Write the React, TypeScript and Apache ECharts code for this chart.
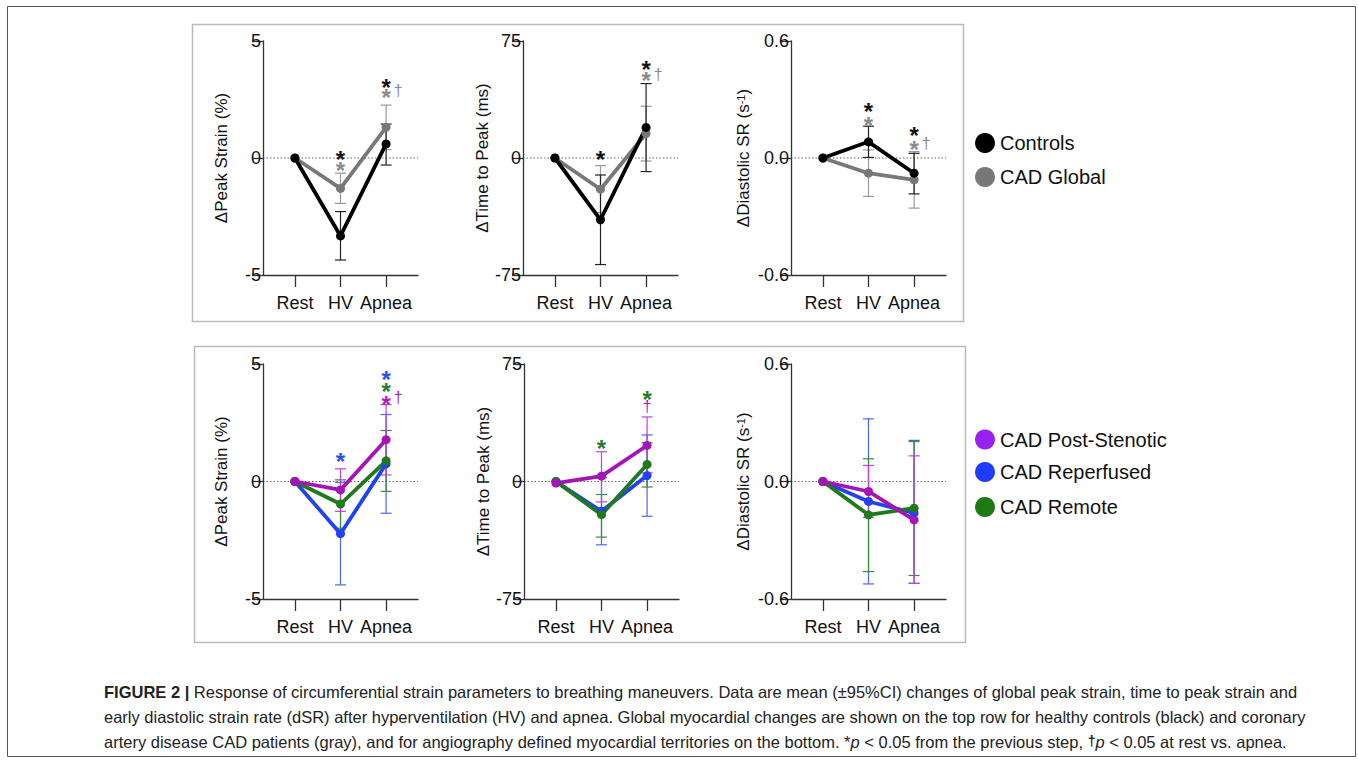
import React, { useEffect, useRef } from "react";
import * as echarts from "echarts";

const FONT = '"Liberation Sans", Arial, Helvetica, sans-serif';
const CATS = ["Rest", "HV", "Apnea"];
const X = [0, 1, 2];

// ---- Top row: Controls vs CAD Global ----
const strainControls = [0, -3.33, 0.6];
const strainControlsLo = [0, -4.36, -0.3];
const strainControlsHi = [0, -2.29, 1.45];
const strainCad = [0, -1.3, 1.31];
const strainCadLo = [0, -1.94, 0.36];
const strainCadHi = [0, -0.65, 2.26];

const ttpControls = [0, -39.6, 19.6];
const ttpControlsLo = [0, -68.3, -8.7];
const ttpControlsHi = [0, -10.9, 47.7];
const ttpCad = [0, -20, 15.7];
const ttpCadLo = [0, -35, -1.9];
const ttpCadHi = [0, -4.9, 33.2];

const dsrControls = [0, 0.083, -0.078];
const dsrControlsLo = [0, 0.003, -0.184];
const dsrControlsHi = [0, 0.163, 0.024];
const dsrCad = [0, -0.078, -0.112];
const dsrCadLo = [0, -0.197, -0.257];
const dsrCadHi = [0, 0.041, 0.033];

// ---- Bottom row: territories ----
const strainPost = [0, -0.36, 1.78];
const strainPostLo = [0, -1.27, 0.28];
const strainPostHi = [0, 0.54, 3.27];
const strainRep = [0, -2.22, 0.75];
const strainRepLo = [0, -4.4, -1.35];
const strainRepHi = [0, -0.04, 2.85];
const strainRem = [0, -0.96, 0.88];
const strainRemLo = [0, -1.99, -0.42];
const strainRemHi = [0, 0.07, 2.17];

const ttpPost = [-1, 3.4, 23];
const ttpPostLo = [-1, -13, 5.5];
const ttpPostHi = [-1, 19, 41.2];
const ttpRep = [0, -19, 3.8];
const ttpRepLo = [0, -40.4, -22.2];
const ttpRepHi = [0, 2.4, 29.7];
const ttpRem = [0, -21.2, 10.9];
const ttpRemLo = [0, -35.5, -3.5];
const ttpRemHi = [0, -8.3, 24.7];

const dsrPost = [0, -0.051, -0.196];
const dsrPostLo = [0, -0.184, -0.52];
const dsrPostHi = [0, 0.082, 0.131];
const dsrRep = [0, -0.102, -0.161];
const dsrRepLo = [0, -0.523, -0.52];
const dsrRepHi = [0, 0.32, 0.204];
const dsrRem = [0, -0.17, -0.136];
const dsrRemLo = [0, -0.46, -0.48];
const dsrRemHi = [0, 0.116, 0.21];

// colours
const C_BLACK = "#000000";
const C_GRAY = "#787878";
const C_MAG = "#a514b8";
const C_BLUE = "#2242f2";
const C_GREEN = "#1f7a1c";
const K_BLACK = "#111111";
const K_GRAY = "#8a8a8a";
const K_BLUE = "#2a4cf0";
const K_GREEN = "#2a7a2a";
const K_MAG = "#b01cc0";

// significance markers: stacks of "*" (or "†") at a category, y = glyph centre value
type Mark = { y: number; t: string; c: string };
type Stack = { x: number; marks: Mark[] };
type Dagger = { x: number; y: number; c: string };

const stacksA: Stack[] = [
  { x: 1, marks: [{ y: 0.17, t: "*", c: K_BLACK }, { y: -0.3, t: "*", c: K_GRAY }] },
  { x: 2, marks: [{ y: 3.26, t: "*", c: K_BLACK }, { y: 2.83, t: "*", c: K_GRAY }] },
];
const daggersA: Dagger[] = [{ x: 2, y: 2.83, c: K_GRAY }];
const stacksB: Stack[] = [
  { x: 1, marks: [{ y: 2.6, t: "*", c: K_BLACK }] },
  { x: 2, marks: [{ y: 60.4, t: "*", c: K_BLACK }, { y: 53, t: "*", c: K_GRAY }] },
];
const daggersB: Dagger[] = [{ x: 2, y: 53, c: K_GRAY }];
const stacksC: Stack[] = [
  { x: 1, marks: [{ y: 0.27, t: "*", c: K_BLACK }, { y: 0.198, t: "*", c: K_GRAY }] },
  { x: 2, marks: [{ y: 0.143, t: "*", c: K_BLACK }, { y: 0.0715, t: "*", c: K_GRAY }] },
];
const daggersC: Dagger[] = [{ x: 2, y: 0.0715, c: K_GRAY }];
const stacksD: Stack[] = [
  { x: 1, marks: [{ y: 1.07, t: "*", c: K_BLUE }] },
  { x: 2, marks: [{ y: 4.58, t: "*", c: K_BLUE }, { y: 4.05, t: "*", c: K_GREEN }, { y: 3.52, t: "*", c: K_MAG }] },
];
const daggersD: Dagger[] = [{ x: 2, y: 3.52, c: K_MAG }];
const stacksE: Stack[] = [
  { x: 1, marks: [{ y: 24.7, t: "*", c: K_GREEN }] },
  { x: 2, marks: [{ y: 55.8, t: "*", c: K_GREEN }, { y: 47.2, t: "†", c: K_MAG }] },
];
const daggersE: Dagger[] = [];

type S = { color: string; err: string; mean: number[]; lo: number[]; hi: number[] };
type Panel = {
  left: number; top: number; height: number; max: number; dec: number;
  name: string; nameGap: number; series: S[]; stacks: Stack[]; daggers: Dagger[];
};

const panels: Panel[] = [
  {
    left: 263, top: 41, height: 234, max: 5, dec: 0, name: "ΔPeak Strain (%)", nameGap: 33,
    series: [
      { color: C_GRAY, err: "#9a9a9a", mean: strainCad, lo: strainCadLo, hi: strainCadHi },
      { color: C_BLACK, err: "#222", mean: strainControls, lo: strainControlsLo, hi: strainControlsHi },
    ],
    stacks: stacksA, daggers: daggersA,
  },
  {
    left: 523, top: 41, height: 234, max: 75, dec: 0, name: "ΔTime to Peak (ms)", nameGap: 31,
    series: [
      { color: C_GRAY, err: "#9a9a9a", mean: ttpCad, lo: ttpCadLo, hi: ttpCadHi },
      { color: C_BLACK, err: "#222", mean: ttpControls, lo: ttpControlsLo, hi: ttpControlsHi },
    ],
    stacks: stacksB, daggers: daggersB,
  },
  {
    left: 791, top: 41, height: 234, max: 0.6, dec: 1, name: "ΔDiastolic SR (s{sup|-1})", nameGap: 39,
    series: [
      { color: C_GRAY, err: "#9a9a9a", mean: dsrCad, lo: dsrCadLo, hi: dsrCadHi },
      { color: C_BLACK, err: "#222", mean: dsrControls, lo: dsrControlsLo, hi: dsrControlsHi },
    ],
    stacks: stacksC, daggers: daggersC,
  },
  {
    left: 263, top: 364, height: 235, max: 5, dec: 0, name: "ΔPeak Strain (%)", nameGap: 33,
    series: [
      { color: C_BLUE, err: "#4a66ff", mean: strainRep, lo: strainRepLo, hi: strainRepHi },
      { color: C_GREEN, err: "#3a8a3a", mean: strainRem, lo: strainRemLo, hi: strainRemHi },
      { color: C_MAG, err: "#c044d0", mean: strainPost, lo: strainPostLo, hi: strainPostHi },
    ],
    stacks: stacksD, daggers: daggersD,
  },
  {
    left: 524, top: 364, height: 235, max: 75, dec: 0, name: "ΔTime to Peak (ms)", nameGap: 32,
    series: [
      { color: C_BLUE, err: "#4a66ff", mean: ttpRep, lo: ttpRepLo, hi: ttpRepHi },
      { color: C_GREEN, err: "#3a8a3a", mean: ttpRem, lo: ttpRemLo, hi: ttpRemHi },
      { color: C_MAG, err: "#c044d0", mean: ttpPost, lo: ttpPostLo, hi: ttpPostHi },
    ],
    stacks: stacksE, daggers: daggersE,
  },
  {
    left: 791, top: 364, height: 235, max: 0.6, dec: 1, name: "ΔDiastolic SR (s{sup|-1})", nameGap: 39,
    series: [
      { color: C_BLUE, err: "#4a66ff", mean: dsrRep, lo: dsrRepLo, hi: dsrRepHi },
      { color: C_GREEN, err: "#3a8a3a", mean: dsrRem, lo: dsrRemLo, hi: dsrRemHi },
      { color: C_MAG, err: "#c044d0", mean: dsrPost, lo: dsrPostLo, hi: dsrPostHi },
    ],
    stacks: [], daggers: [],
  },
];

const legendTop = [
  { name: "Controls", color: "#000000" },
  { name: "CAD Global", color: "#777777" },
];
const legendBottom = [
  { name: "CAD Post-Stenotic", color: "#9a20f0" },
  { name: "CAD Reperfused", color: "#1f3cff" },
  { name: "CAD Remote", color: "#1e7a14" },
];

const caption = [
  "{b|FIGURE 2 |} Response of circumferential strain parameters to breathing maneuvers. Data are mean (±95%CI) changes of global peak strain, time to peak strain and",
  "early diastolic strain rate (dSR) after hyperventilation (HV) and apnea. Global myocardial changes are shown on the top row for healthy controls (black) and coronary",
  "artery disease CAD patients (gray), and for angiography defined myocardial territories on the bottom. *{i|p} < 0.05 from the previous step, {d|†}{i|p} < 0.05 at rest vs. apnea.",
];

const STAR_SIZE = 24;
const DAG_SIZE = 16;
// offset from glyph centre to em-box centre (pixels, positive = down)
const glyphOff = (t: string) => (t === "*" ? 0.235 * STAR_SIZE : -0.05 * DAG_SIZE);

function buildOption() {
  const grid: any[] = [];
  const xAxis: any[] = [];
  const yAxis: any[] = [];
  const series: any[] = [];
  const AX = "#333";

  panels.forEach((p, i) => {
    grid.push({ left: p.left, top: p.top, width: 155, height: p.height });
    xAxis.push({
      gridIndex: i, type: "value", min: -0.7, max: 2.7,
      splitLine: { show: false },
      axisLine: { show: true, onZero: false, lineStyle: { color: AX, width: 1.3 } },
      axisTick: { show: true, customValues: X, length: 12, lineStyle: { color: AX, width: 1.3 } },
      axisLabel: {
        customValues: X, margin: 19, fontSize: 18, color: "#111", fontFamily: FONT,
        formatter: (v: number) => CATS[Math.round(v)] ?? "",
      },
    });
    yAxis.push({
      gridIndex: i, type: "value", min: -p.max, max: p.max, interval: p.max,
      splitLine: { show: false },
      axisLine: { show: true, onZero: false, lineStyle: { color: AX, width: 1.3 } },
      axisTick: { show: true, length: 11, lineStyle: { color: AX, width: 1.3 } },
      axisLabel: {
        margin: 2, fontSize: 18, color: "#111", fontFamily: FONT,
        formatter: (v: number) => (Math.abs(v) < 1e-9 ? 0 : v).toFixed(p.dec),
      },
      name: p.name, nameLocation: "middle", nameGap: p.nameGap, nameRotate: 90,
      nameTextStyle: {
        fontSize: 17, color: "#111", fontFamily: FONT,
        rich: { sup: { fontSize: 11, verticalAlign: "top", color: "#111", fontFamily: FONT, padding: [0, 0, 6, 0] } },
      },
    });

    // dotted zero reference line
    series.push({
      type: "custom", xAxisIndex: i, yAxisIndex: i, z: 0, silent: true,
      data: [[0, 0]],
      renderItem: (params: any, api: any) => {
        const cs = params.coordSys;
        const y = api.coord([0, api.value(1)])[1];
        return {
          type: "line",
          shape: { x1: cs.x, y1: y, x2: cs.x + cs.width, y2: y },
          style: { stroke: "#666", lineWidth: 1, lineDash: [1.5, 2] },
        };
      },
    });

    // error bars
    p.series.forEach((s) => {
      series.push({
        type: "custom", xAxisIndex: i, yAxisIndex: i, z: 1, silent: true,
        encode: { x: 0, y: [1, 2] },
        data: X.map((x, k) => [x, s.lo[k], s.hi[k]]).filter((d) => d[1] !== d[2]),
        renderItem: (params: any, api: any) => {
          const x = api.value(0);
          const a = api.coord([x, api.value(2)]);
          const b = api.coord([x, api.value(1)]);
          const w = 5.5;
          const st = { stroke: s.err, lineWidth: 1.2 };
          return {
            type: "group",
            children: [
              { type: "line", shape: { x1: a[0], y1: a[1], x2: b[0], y2: b[1] }, style: st },
              { type: "line", shape: { x1: a[0] - w, y1: a[1], x2: a[0] + w, y2: a[1] }, style: st },
              { type: "line", shape: { x1: b[0] - w, y1: b[1], x2: b[0] + w, y2: b[1] }, style: st },
            ],
          };
        },
      });
    });

    // mean lines
    p.series.forEach((s) => {
      series.push({
        type: "line", xAxisIndex: i, yAxisIndex: i, z: 2, silent: true,
        data: X.map((x, k) => [x, s.mean[k]]),
        symbol: "circle", symbolSize: 9, showSymbol: true,
        lineStyle: { color: s.color, width: 3.8 },
        itemStyle: { color: s.color },
      });
    });

    // significance stacks (one text element per stack)
    if (p.stacks.length) {
      const stacks = p.stacks;
      series.push({
        type: "custom", xAxisIndex: i, yAxisIndex: i, z: 3, silent: true,
        data: stacks.map((st) => [st.x, st.marks[0].y]),
        renderItem: (params: any, api: any) => {
          const st = stacks[params.dataIndex];
          const x = api.value(0);
          const mids = st.marks.map((m) => api.coord([x, m.y])[1] + glyphOff(m.t));
          const n = mids.length;
          const L = n > 1 ? (mids[n - 1] - mids[0]) / (n - 1) : 12;
          const rich: any = {};
          const parts = st.marks.map((m, k) => {
            const star = m.t === "*";
            rich["m" + k] = {
              fill: m.c, fontSize: star ? STAR_SIZE : DAG_SIZE, fontFamily: FONT,
              fontWeight: star ? "bold" : "normal", lineHeight: L,
            };
            return `{m${k}|${m.t}}`;
          });
          const px = api.coord([x, st.marks[0].y])[0];
          return {
            type: "text",
            x: px,
            y: mids[0] - L / 2,
            style: {
              text: parts.join("\n"), rich, lineHeight: L,
              align: "center", verticalAlign: "top", fontFamily: FONT,
            },
          };
        },
      });
    }
    if (p.daggers.length) {
      const dg = p.daggers;
      series.push({
        type: "custom", xAxisIndex: i, yAxisIndex: i, z: 3, silent: true,
        data: dg.map((d) => [d.x, d.y]),
        renderItem: (params: any, api: any) => {
          const d = dg[params.dataIndex];
          const pt = api.coord([api.value(0), api.value(1)]);
          return {
            type: "text",
            x: pt[0] + 12,
            y: pt[1] + glyphOff("†"),
            style: {
              text: "†", fill: d.c, fontSize: DAG_SIZE, fontFamily: FONT,
              align: "center", verticalAlign: "middle",
            },
          };
        },
      });
    }
  });

  const graphic: any[] = [
    { type: "rect", shape: { x: 7.5, y: 6.5, width: 1348, height: 750 }, style: { fill: "none", stroke: "#555", lineWidth: 1 }, silent: true },
    { type: "rect", shape: { x: 192.5, y: 24.5, width: 771, height: 297 }, style: { fill: "none", stroke: "#bbb", lineWidth: 1.5 }, silent: true },
    { type: "rect", shape: { x: 194.5, y: 346.5, width: 771, height: 296 }, style: { fill: "none", stroke: "#bbb", lineWidth: 1.5 }, silent: true },
  ];
  const legY1 = [143, 177];
  legendTop.forEach((l, k) => {
    graphic.push({ type: "circle", shape: { cx: 985, cy: legY1[k], r: 10 }, style: { fill: l.color } });
    graphic.push({ type: "text", x: 1000, y: legY1[k], style: { text: l.name, fontSize: 20, fontFamily: FONT, fill: "#111", verticalAlign: "middle" } });
  });
  const legY2 = [439.5, 472, 507];
  legendBottom.forEach((l, k) => {
    graphic.push({ type: "circle", shape: { cx: 985, cy: legY2[k], r: 10 }, style: { fill: l.color } });
    graphic.push({ type: "text", x: 1000, y: legY2[k], style: { text: l.name, fontSize: 20, fontFamily: FONT, fill: "#111", verticalAlign: "middle" } });
  });
  const capY = [692, 717, 742];
  const CS = 16.5;
  caption.forEach((line, k) => {
    graphic.push({
      type: "text", x: 104, y: capY[k],
      style: {
        text: line, fontSize: CS, fontFamily: FONT, fill: "#222", verticalAlign: "middle",
        rich: {
          b: { fontWeight: "bold", fontSize: CS, fontFamily: FONT, fill: "#222" },
          i: { fontStyle: "italic", fontSize: CS, fontFamily: FONT, fill: "#222" },
          d: { fontWeight: "bold", fontSize: 14, fontFamily: FONT, fill: "#222", verticalAlign: "top" },
        },
      },
    });
  });

  return {
    animation: false,
    backgroundColor: "#ffffff",
    textStyle: { fontFamily: FONT },
    grid, xAxis, yAxis, series, graphic,
  };
}

export default function App() {
  const ref = useRef<HTMLDivElement>(null);
  useEffect(() => {
    if (!ref.current) return;
    const chart = echarts.init(ref.current, undefined, { renderer: "svg" });
    chart.setOption(buildOption() as any);
    return () => chart.dispose();
  }, []);
  return (
    <div
      ref={ref}
      style={{ position: "absolute", left: 0, top: 0, width: 1358, height: 763, background: "#fff" }}
    />
  );
}
